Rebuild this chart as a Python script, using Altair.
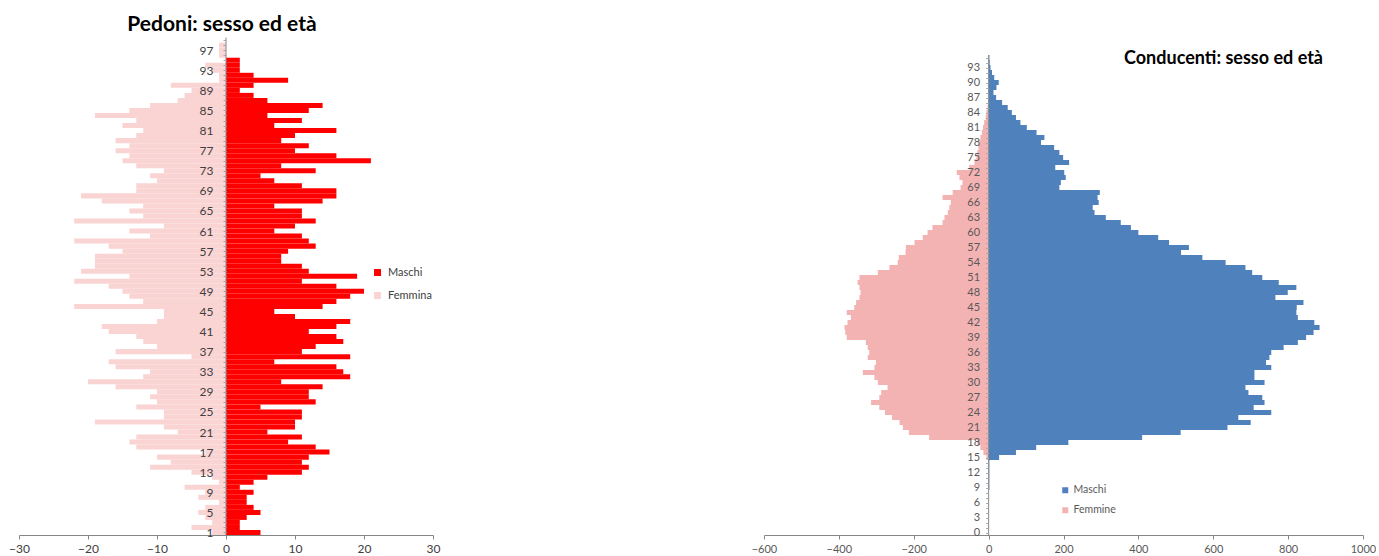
import altair as alt
import pandas as pd

# ---------------- Pedoni (left) ----------------
ped_ages = list(range(1, 100))
ped_maschi = [5, 2, 2, 3, 5, 4, 3, 3, 4, 2,
              4, 6, 11, 12, 11, 12, 15, 13, 9, 11,
              6, 10, 10, 11, 11, 5, 13, 12, 12, 14,
              8, 18, 17, 16, 7, 18, 11, 13, 17, 16,
              12, 16, 18, 10, 7, 14, 16, 18, 20, 16,
              11, 19, 12, 11, 8, 8, 9, 13, 12, 11,
              7, 10, 13, 11, 11, 7, 14, 16, 16, 11,
              7, 5, 13, 8, 21, 16, 10, 12, 8, 10,
              16, 7, 11, 6, 12, 14, 6, 4, 2, 4,
              9, 4, 2, 2, 2, 0, 0, 0, 0]
ped_femmina = [2, 5, 2, 3, 4, 3, 1, 4, 3, 6,
               1, 2, 5, 11, 8, 10, 3, 13, 14, 13,
               7, 9, 19, 9, 9, 13, 10, 11, 10, 16,
               20, 12, 11, 16, 17, 5, 16, 10, 12, 13,
               17, 18, 10, 9, 9, 22, 12, 14, 15, 17,
               22, 14, 21, 19, 19, 19, 15, 17, 22, 11,
               14, 9, 22, 12, 14, 12, 18, 21, 13, 13,
               10, 11, 9, 13, 15, 14, 16, 14, 16, 13,
               12, 15, 13, 19, 14, 11, 7, 6, 5, 8,
               1, 1, 2, 3, 0, 1, 1, 1, 0]
ped_ticks = [-30, -20, -10, 0, 10, 20, 30]
ped_sexes = ["Maschi", "Femmina"]
ped_colors = ["#FF0000", "#FAD3D3"]

# ---------------- Conducenti (right) ----------------
con_ages = list(range(0, 96))
con_maschi = [0, 0, 0, 0, 0, 0, 0, 0, 0, 2,
              2, 2, 2, 2, 2, 28, 73, 127, 213, 410,
              513, 638, 700, 667, 755, 708, 737, 731, 694, 686,
              737, 710, 710, 755, 741, 750, 755, 788, 826, 848,
              868, 884, 870, 826, 822, 823, 841, 766, 799, 822,
              775, 731, 704, 686, 633, 571, 514, 535, 482, 453,
              400, 380, 353, 313, 283, 278, 294, 291, 297, 189,
              193, 206, 202, 178, 215, 199, 189, 175, 140, 149,
              128, 102, 85, 73, 62, 51, 36, 20, 13, 21,
              27, 15, 9, 5, 3, 2]
con_femmine = [0, 0, 0, 0, 0, 0, 0, 0, 0, 0,
               0, 0, 0, 0, 0, 6, 14, 22, 30, 159,
               213, 229, 238, 258, 277, 292, 314, 292, 287, 270,
               296, 305, 336, 305, 301, 323, 319, 323, 328, 379,
               383, 385, 377, 368, 379, 359, 354, 345, 342, 345,
               350, 345, 296, 265, 243, 240, 222, 221, 198, 176,
               163, 150, 123, 118, 109, 105, 101, 123, 96, 75,
               70, 78, 85, 52, 38, 33, 30, 27, 25, 22,
               18, 15, 12, 8, 6, 3, 0, 0, 0, 0,
               0, 0, 0, 0, 0, 0]
con_ticks = [-600, -400, -200, 0, 200, 400, 600, 800, 1000]
con_sexes = ["Maschi", "Femmine"]
con_colors = ["#4F81BD", "#F4B3B3"]

FONT = "Lato"


def long_table(ages, males, females, sexes):
    rows = []
    for a, m, f in zip(ages, males, females):
        rows.append({"age": a, "lo": a - 0.5, "hi": a + 0.5, "sex": sexes[0], "value": m})
        rows.append({"age": a, "lo": a - 0.5, "hi": a + 0.5, "sex": sexes[1], "value": -f})
    return pd.DataFrame(rows)


def pyramid(ages, males, females, sexes, colors, ticks, width, height,
            ytop, zero_px, label_expr, title, title_params, legend_params,
            label_color, label_size, ylab_pad):
    df = long_table(ages, males, females, sexes)
    axis_df = pd.DataFrame({"lo": [min(ages) - 0.5], "hi": [max(ages) + 0.5], "x": [0]})
    yscale = alt.Scale(domain=[min(ages) - 0.5, ytop], nice=False, zero=False)
    xscale = alt.Scale(domain=[ticks[0], ticks[-1]], nice=False, zero=False)

    bars = alt.Chart(df).mark_bar(strokeWidth=0).encode(
        y=alt.Y("lo:Q", scale=yscale,
                axis=alt.Axis(values=ages, labelExpr=label_expr, offset=-zero_px,
                              domain=False, grid=False, tickSize=3, tickColor="#A6A6A6",
                              labelPadding=ylab_pad, labelFontSize=label_size,
                              labelColor=label_color, labelFont=FONT, title=None,
                              labelOverlap=False, labelFlush=False, labelBound=False,
                              format="d", zindex=1)),
        y2="hi:Q",
        x=alt.X("value:Q", scale=xscale,
                axis=alt.Axis(values=ticks, grid=False, domainColor="#868686",
                              tickColor="#868686", tickSize=4, labelPadding=4,
                              labelFontSize=label_size, labelColor=label_color,
                              labelFont=FONT, title=None, format="d", zindex=1,
                              labelFlush=False, labelOverlap=False)),
        x2=alt.datum(0),
        color=alt.Color("sex:N", scale=alt.Scale(domain=sexes, range=colors),
                        sort=sexes, legend=alt.Legend(**legend_params)),
    )
    rule = alt.Chart(axis_df).mark_rule(color="#868686", strokeWidth=1).encode(
        x=alt.X("x:Q", scale=xscale, axis=None),
        y=alt.Y("lo:Q", scale=yscale, axis=None),
        y2="hi:Q",
    )
    return alt.layer(bars, rule).resolve_axis(x="independent", y="independent").properties(
        width=width, height=height,
        title=alt.TitleParams(title, **title_params),
    )


H = 527
left = pyramid(
    ped_ages, ped_maschi, ped_femmina, ped_sexes, ped_colors, ped_ticks,
    414, H, 0.5 + H / 5.024, 207,
    "(datum.value - 1) % 4 === 0 ? datum.label : ''",
    "Pedoni: sesso ed età",
    dict(anchor="middle", frame="group", fontSize=21, font=FONT, fontWeight="bold",
         color="#000000", baseline="alphabetic", offset=-44, dx=-4),
    dict(orient="none", legendX=353, legendY=259, title=None, symbolType="square",
         symbolSize=49, symbolStrokeWidth=0, labelFontSize=11, labelFont=FONT,
         labelColor="#404040", labelOffset=5, rowPadding=11, padding=0),
    "#404040", 12, 10,
)
right = pyramid(
    con_ages, con_maschi, con_femmine, con_sexes, con_colors, con_ticks,
    599, H, -0.5 + H / 5.0, 224.6,
    "datum.value % 3 === 0 ? datum.label : ''",
    "Conducenti: sesso ed età",
    dict(anchor="end", frame="group", fontSize=18, font=FONT, fontWeight="bold",
         color="#000000", baseline="alphabetic", offset=-74, dx=-40),
    dict(orient="none", legendX=296, legendY=477, title=None, symbolType="square",
         symbolSize=36, symbolStrokeWidth=0, labelFontSize=10.5, labelFont=FONT,
         labelColor="#595959", labelOffset=3, rowPadding=9, padding=0),
    "#595959", 11, 6,
)

chart = alt.hconcat(left, right, spacing=311).resolve_scale(
    color="independent", x="independent", y="independent"
).properties(
    padding={"left": 8, "top": 8, "right": 0, "bottom": 0},
    background="white",
).configure_view(stroke=None)

chart.save("out.html", embed_options={"renderer": "svg", "actions": False})
